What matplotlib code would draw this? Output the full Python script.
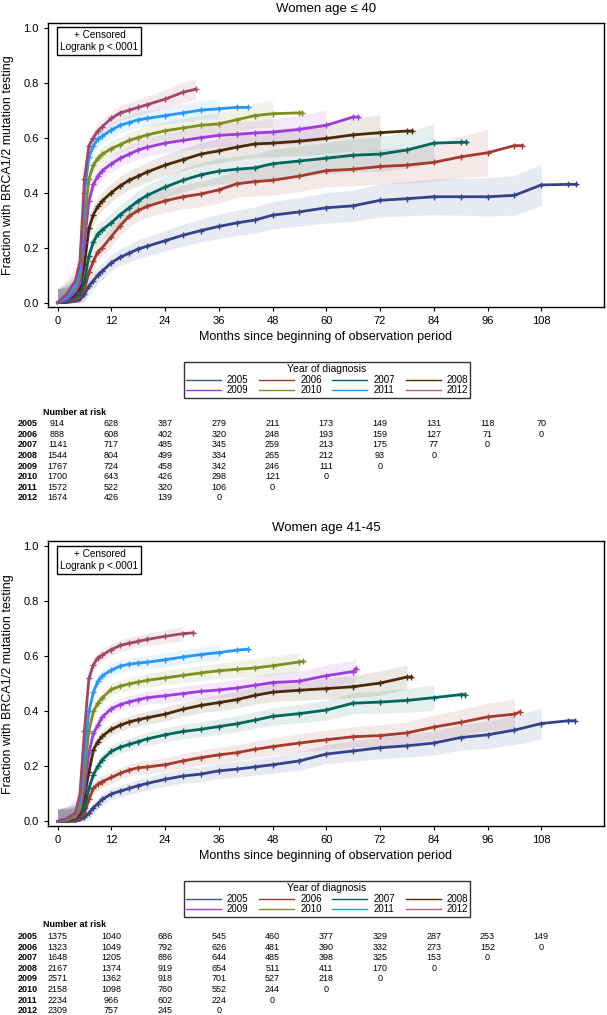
import numpy as np
import matplotlib
matplotlib.use("Agg")
import matplotlib.pyplot as plt
from matplotlib.lines import Line2D
from matplotlib.transforms import blended_transform_factory

plt.rcParams["font.family"] = ["Liberation Sans", "DejaVu Sans"]

YEARS = ["2005", "2006", "2007", "2008", "2009", "2010", "2011", "2012"]
COLORS = ["#34428a", "#a23a2e", "#01665e", "#4a2a06",
          "#9d3cdb", "#7f8e1f", "#2597fa", "#a0486c"]
LEGEND_COLORS = ["#445694", "#a23a2e", "#01665e", "#543005",
                 "#9d3cdb", "#7f8e1f", "#2597fa", "#b26084"]

MONTHS = [0, 2, 4, 5, 6, 7, 8, 9, 10, 12, 14, 16, 18, 20, 24, 28, 32, 36,
          40, 44, 48, 54, 60, 66, 72, 78, 84, 90, 96, 102, 108, 114]
RISK_MONTHS = [0, 12, 24, 36, 48, 60, 72, 84, 96, 108]

# ---- panel 1: women age <= 40 ----
P1_TITLE = "Women age \u2264 40"
P1_END = [115.8, 103.8, 91.3, 79.2, 67.1, 54.6, 42.5, 30.8]
P1_BAND_END = [107, 97, 84, 75, 63, 49.4, 37, 29.5]
P1_2005 = [0, 0, 0.005, 0.01, 0.03, 0.06, 0.08, 0.10, 0.115, 0.145, 0.165, 0.18, 0.195, 0.205, 0.225, 0.245,
           0.262, 0.277, 0.29, 0.30, 0.318, 0.33, 0.345, 0.352, 0.372, 0.378, 0.385, 0.385, 0.385, 0.39,
           0.428, 0.43, 0.43]
P1_2006 = [0, 0.005, 0.01, 0.02, 0.05, 0.11, 0.15, 0.185, 0.20, 0.24, 0.28, 0.315, 0.335, 0.35, 0.37, 0.385,
           0.395, 0.41, 0.432, 0.44, 0.445, 0.46, 0.48, 0.485, 0.495, 0.50, 0.51, 0.53, 0.545, 0.571, 0.571]
P1_2007 = [0, 0.005, 0.02, 0.03, 0.08, 0.17, 0.22, 0.25, 0.265, 0.29, 0.32, 0.345, 0.37, 0.39, 0.42, 0.445,
           0.465, 0.478, 0.485, 0.49, 0.505, 0.515, 0.525, 0.536, 0.54, 0.555, 0.58, 0.583, 0.583]
P1_2008 = [0, 0.01, 0.03, 0.05, 0.14, 0.27, 0.32, 0.35, 0.37, 0.40, 0.425, 0.445, 0.46, 0.475, 0.50, 0.52,
           0.54, 0.552, 0.565, 0.577, 0.58, 0.587, 0.597, 0.61, 0.618, 0.624, 0.624]
P1_2009 = [0, 0.01, 0.04, 0.07, 0.22, 0.37, 0.43, 0.46, 0.48, 0.505, 0.525, 0.54, 0.555, 0.565, 0.58, 0.59,
           0.60, 0.608, 0.612, 0.617, 0.62, 0.63, 0.645, 0.675, 0.675]
P1_2010 = [0, 0.02, 0.05, 0.10, 0.30, 0.45, 0.50, 0.525, 0.54, 0.56, 0.575, 0.59, 0.60, 0.61, 0.625, 0.635,
           0.645, 0.65, 0.665, 0.68, 0.687, 0.69, 0.69]
P1_2011 = [0, 0.02, 0.06, 0.12, 0.40, 0.53, 0.57, 0.595, 0.605, 0.628, 0.645, 0.655, 0.665, 0.67, 0.68,
           0.69, 0.70, 0.705, 0.71, 0.71]
P1_2012 = [0, 0.03, 0.08, 0.15, 0.45, 0.57, 0.60, 0.625, 0.64, 0.67, 0.69, 0.70, 0.71, 0.72, 0.74, 0.765,
           0.776]
# half-width of the confidence band
P1_HW_2005 = [0.05, 0.05, 0.05, 0.05, 0.04, 0.03, 0.03, 0.03, 0.03, 0.03, 0.03, 0.032, 0.034, 0.035, 0.037,
              0.04, 0.042, 0.044, 0.046, 0.048, 0.05, 0.052, 0.055, 0.057, 0.06, 0.062, 0.065, 0.067, 0.07,
              0.072, 0.075, 0.075, 0.075]
P1_HW_2006 = [0.05, 0.05, 0.05, 0.05, 0.04, 0.035, 0.035, 0.035, 0.035, 0.035, 0.035, 0.037, 0.038, 0.04,
              0.042, 0.044, 0.046, 0.048, 0.05, 0.052, 0.054, 0.056, 0.058, 0.06, 0.063, 0.066, 0.07, 0.075,
              0.085, 0.09, 0.09]
P1_HW_2007 = [0.05, 0.05, 0.05, 0.05, 0.04, 0.035, 0.035, 0.035, 0.035, 0.035, 0.035, 0.036, 0.037, 0.038,
              0.04, 0.042, 0.044, 0.046, 0.048, 0.05, 0.052, 0.055, 0.057, 0.06, 0.063, 0.066, 0.07, 0.07, 0.07]
P1_HW_2008 = [0.05, 0.05, 0.05, 0.05, 0.04, 0.035, 0.033, 0.033, 0.033, 0.033, 0.033, 0.034, 0.035, 0.036,
              0.038, 0.04, 0.042, 0.044, 0.046, 0.048, 0.05, 0.053, 0.056, 0.06, 0.065, 0.065, 0.065]
P1_HW_2009 = [0.05, 0.05, 0.05, 0.05, 0.04, 0.033, 0.03, 0.03, 0.03, 0.03, 0.03, 0.031, 0.032, 0.033, 0.035,
              0.037, 0.039, 0.041, 0.043, 0.045, 0.048, 0.05, 0.055, 0.06, 0.06]
P1_HW_2010 = [0.05, 0.05, 0.05, 0.05, 0.04, 0.03, 0.03, 0.028, 0.028, 0.028, 0.028, 0.029, 0.03, 0.031,
              0.033, 0.035, 0.037, 0.04, 0.042, 0.045, 0.048, 0.05, 0.05]
P1_HW_2011 = [0.05, 0.05, 0.05, 0.05, 0.04, 0.03, 0.028, 0.027, 0.027, 0.027, 0.027, 0.027, 0.028, 0.028,
              0.03, 0.032, 0.034, 0.036, 0.036, 0.036]
P1_HW_2012 = [0.05, 0.05, 0.05, 0.05, 0.04, 0.03, 0.028, 0.027, 0.027, 0.027, 0.027, 0.028, 0.029, 0.03,
              0.033, 0.037, 0.037]
P1_RISK_2005 = [914, 628, 387, 279, 211, 173, 149, 131, 118, 70]
P1_RISK_2006 = [888, 608, 402, 320, 248, 193, 159, 127, 71, 0]
P1_RISK_2007 = [1141, 717, 485, 345, 259, 213, 175, 77, 0]
P1_RISK_2008 = [1544, 804, 499, 334, 265, 212, 93, 0]
P1_RISK_2009 = [1767, 724, 458, 342, 246, 111, 0]
P1_RISK_2010 = [1700, 643, 426, 298, 121, 0]
P1_RISK_2011 = [1572, 522, 320, 106, 0]
P1_RISK_2012 = [1674, 426, 139, 0]

# ---- panel 2: women age 41-45 ----
P2_TITLE = "Women age 41-45"
P2_END = [115.5, 103.2, 91.0, 79.0, 66.6, 54.8, 42.5, 30.3]
P2_BAND_END = [110, 100, 86, 76, 65, 52, 37.9, 27.5]
P2_2005 = [0, 0, 0.0, 0.005, 0.015, 0.03, 0.05, 0.065, 0.08, 0.10, 0.11, 0.12, 0.13, 0.138, 0.153, 0.165,
           0.172, 0.184, 0.19, 0.198, 0.206, 0.22, 0.245, 0.256, 0.268, 0.275, 0.285, 0.305, 0.315, 0.332,
           0.356, 0.366, 0.366]
P2_2006 = [0, 0, 0.005, 0.01, 0.03, 0.08, 0.12, 0.135, 0.145, 0.16, 0.175, 0.187, 0.195, 0.198, 0.206, 0.22,
           0.232, 0.242, 0.25, 0.262, 0.272, 0.285, 0.297, 0.308, 0.312, 0.322, 0.343, 0.36, 0.38, 0.39, 0.398]
P2_2007 = [0, 0, 0.01, 0.02, 0.05, 0.12, 0.17, 0.20, 0.225, 0.255, 0.27, 0.28, 0.29, 0.30, 0.315, 0.327,
           0.335, 0.345, 0.355, 0.368, 0.382, 0.392, 0.405, 0.43, 0.434, 0.44, 0.45, 0.461, 0.461]
P2_2008 = [0, 0.005, 0.01, 0.03, 0.09, 0.18, 0.26, 0.29, 0.31, 0.335, 0.35, 0.362, 0.37, 0.377, 0.39, 0.408,
           0.422, 0.432, 0.443, 0.458, 0.47, 0.477, 0.483, 0.49, 0.503, 0.525, 0.525]
P2_2009 = [0, 0.005, 0.015, 0.04, 0.12, 0.25, 0.32, 0.35, 0.38, 0.41, 0.425, 0.435, 0.443, 0.45, 0.457,
           0.465, 0.473, 0.478, 0.485, 0.495, 0.505, 0.51, 0.53, 0.545, 0.556]
P2_2010 = [0, 0.005, 0.02, 0.05, 0.18, 0.33, 0.40, 0.43, 0.45, 0.48, 0.492, 0.50, 0.507, 0.513, 0.522,
           0.531, 0.54, 0.548, 0.553, 0.558, 0.566, 0.58, 0.582]
P2_2011 = [0, 0.01, 0.03, 0.08, 0.25, 0.40, 0.47, 0.51, 0.53, 0.55, 0.565, 0.572, 0.576, 0.579, 0.588,
           0.598, 0.607, 0.614, 0.623, 0.626]
P2_2012 = [0, 0.01, 0.03, 0.10, 0.33, 0.52, 0.57, 0.595, 0.605, 0.625, 0.64, 0.648, 0.655, 0.662, 0.673,
           0.683, 0.686]
P2_HW_2005 = [0.045, 0.045, 0.045, 0.045, 0.035, 0.025, 0.022, 0.022, 0.022, 0.022, 0.022, 0.022, 0.023,
              0.024, 0.025, 0.026, 0.027, 0.028, 0.029, 0.03, 0.031, 0.033, 0.035, 0.037, 0.039, 0.041,
              0.043, 0.046, 0.05, 0.053, 0.056, 0.056, 0.056]
P2_HW_2006 = [0.045, 0.045, 0.045, 0.045, 0.035, 0.025, 0.022, 0.022, 0.022, 0.022, 0.022, 0.022, 0.023,
              0.024, 0.025, 0.026, 0.027, 0.028, 0.029, 0.03, 0.031, 0.033, 0.035, 0.037, 0.039, 0.041,
              0.044, 0.047, 0.05, 0.055, 0.055]
P2_HW_2007 = [0.045, 0.045, 0.045, 0.045, 0.035, 0.025, 0.022, 0.022, 0.022, 0.022, 0.022, 0.022, 0.023,
              0.024, 0.025, 0.026, 0.027, 0.028, 0.029, 0.03, 0.032, 0.034, 0.036, 0.038, 0.04, 0.043,
              0.046, 0.046, 0.046]
P2_HW_2008 = [0.045, 0.045, 0.045, 0.045, 0.035, 0.025, 0.022, 0.022, 0.022, 0.022, 0.022, 0.022, 0.023,
              0.024, 0.025, 0.026, 0.027, 0.028, 0.03, 0.032, 0.034, 0.036, 0.038, 0.04, 0.044, 0.044, 0.044]
P2_HW_2009 = [0.045, 0.045, 0.045, 0.045, 0.035, 0.025, 0.022, 0.022, 0.022, 0.022, 0.022, 0.022, 0.023,
              0.024, 0.025, 0.026, 0.027, 0.029, 0.031, 0.033, 0.035, 0.037, 0.04, 0.04, 0.04]
P2_HW_2010 = [0.045, 0.045, 0.045, 0.045, 0.035, 0.025, 0.022, 0.022, 0.022, 0.022, 0.022, 0.022, 0.023,
              0.024, 0.025, 0.026, 0.027, 0.028, 0.03, 0.032, 0.035, 0.035, 0.035]
P2_HW_2011 = [0.045, 0.045, 0.045, 0.045, 0.035, 0.025, 0.022, 0.022, 0.022, 0.022, 0.022, 0.022, 0.022,
              0.023, 0.024, 0.025, 0.026, 0.028, 0.028, 0.028]
P2_HW_2012 = [0.045, 0.045, 0.045, 0.045, 0.035, 0.025, 0.022, 0.022, 0.022, 0.022, 0.022, 0.022, 0.022,
              0.023, 0.024, 0.026, 0.026]
P2_RISK_2005 = [1375, 1040, 686, 545, 460, 377, 329, 287, 253, 149]
P2_RISK_2006 = [1323, 1049, 792, 626, 481, 390, 332, 273, 152, 0]
P2_RISK_2007 = [1648, 1205, 886, 644, 485, 398, 325, 153, 0]
P2_RISK_2008 = [2167, 1374, 919, 654, 511, 411, 170, 0]
P2_RISK_2009 = [2571, 1362, 918, 701, 527, 218, 0]
P2_RISK_2010 = [2158, 1098, 760, 552, 244, 0]
P2_RISK_2011 = [2234, 966, 602, 224, 0]
P2_RISK_2012 = [2309, 757, 245, 0]

W, H = 607, 1015
XLIM = (-2.2, 122)
YLIM = (-0.016, 1.018)
AX_LEFT, AX_WIDTH = 47.7, 556.3


def px(x0, y_top, w, h):
    # pixel box (top-left origin) -> figure fraction rect
    return [x0 / W, 1 - (y_top + h) / H, w / W, h / H]


def draw_curves(ax, title, curves, hws, ends, band_ends):
    grid = np.array(MONTHS, dtype=float)
    for i, (y, hw, end, bend) in enumerate(zip(curves, hws, ends, band_ends)):
        t = np.append(grid[grid < end], end)
        y = np.asarray(y, dtype=float)
        hw = np.asarray(hw, dtype=float)
        ax.fill_between(t, np.clip(y - hw, 0, None), y + hw, where=t <= bend + 2,
                        color=COLORS[i], alpha=0.11, lw=0, zorder=1)
    for i, (y, end) in enumerate(zip(curves, ends)):
        t = np.append(grid[grid < end], end)
        ax.plot(t, y, color=COLORS[i], lw=2.0, marker="+", ms=5, mew=1.0,
                markevery=slice(4, None), zorder=3)

    ax.set_xlim(*XLIM)
    ax.set_ylim(*YLIM)
    ax.set_xticks(RISK_MONTHS)
    ax.set_yticks([0, 0.2, 0.4, 0.6, 0.8, 1.0])
    ax.set_yticklabels(["0.0", "0.2", "0.4", "0.6", "0.8", "1.0"])
    ax.tick_params(direction="out", length=3, width=0.8, labelsize=8, pad=3.5)
    for s in ax.spines.values():
        s.set_linewidth(1.0)
    ax.set_title(title, fontsize=9.5, pad=7.5)
    ax.set_ylabel("Fraction with BRCA1/2 mutation testing", fontsize=9)
    ax.yaxis.set_label_coords(-0.06, 0.5)
    ax.set_xlabel("Months since beginning of observation period", fontsize=9)
    ax.xaxis.set_label_coords(0.5, -0.085)
    ax.text(0.093, 0.934, "+ Censored\nLogrank p <.0001", transform=ax.transAxes,
            ha="center", va="center", fontsize=7.2, linespacing=1.25, multialignment="center",
            bbox=dict(boxstyle="square,pad=0.3", fc="white", ec="black", lw=1.0), zorder=5)


def draw_legend(fig, y_top):
    order = [0, 4, 1, 5, 2, 6, 3, 7]
    handles = [Line2D([], [], color=LEGEND_COLORS[i], lw=1.0) for i in order]
    labels = [YEARS[i] for i in order]
    leg = fig.legend(handles, labels, ncol=4, loc="upper center",
                     bbox_to_anchor=(327 / W, 1 - y_top / H), title="Year of diagnosis",
                     fontsize=7, title_fontsize=7.5, frameon=True, fancybox=False,
                     edgecolor="black", handlelength=3.6, handletextpad=0.6,
                     columnspacing=1.1, labelspacing=0.05, borderpad=0.25,
                     borderaxespad=0)
    leg.get_frame().set_linewidth(1.0)


def draw_risk(fig, y_top, rows):
    # same horizontal extent and x scale as the curve axes above it
    tax = fig.add_axes(px(AX_LEFT, y_top, AX_WIDTH, 94.3))
    tax.set_xlim(*XLIM)
    tax.set_ylim(7.4, -1.5)
    tax.axis("off")
    trans = blended_transform_factory(fig.transFigure, tax.transData)
    tax.text(43 / W, -1.1, "Number at risk", transform=trans, ha="left", va="center",
             fontsize=6.5, weight="bold")
    for i, vals in enumerate(rows):
        tax.text(18 / W, i, YEARS[i], transform=trans, ha="left", va="center",
                 fontsize=6.5, weight="bold")
        for m, v in zip(RISK_MONTHS, vals):
            tax.text(m, i, str(v), ha="center", va="center", fontsize=6.5)


fig = plt.figure(figsize=(W / 100, H / 100), dpi=100)

ax1 = fig.add_axes(px(AX_LEFT, 22.7, AX_WIDTH, 284.3))
draw_curves(ax1, P1_TITLE,
            [P1_2005, P1_2006, P1_2007, P1_2008, P1_2009, P1_2010, P1_2011, P1_2012],
            [P1_HW_2005, P1_HW_2006, P1_HW_2007, P1_HW_2008, P1_HW_2009, P1_HW_2010,
             P1_HW_2011, P1_HW_2012],
            P1_END, P1_BAND_END)
draw_legend(fig, 362)
draw_risk(fig, 407.8,
          [P1_RISK_2005, P1_RISK_2006, P1_RISK_2007, P1_RISK_2008, P1_RISK_2009,
           P1_RISK_2010, P1_RISK_2011, P1_RISK_2012])

ax2 = fig.add_axes(px(AX_LEFT, 541.5, AX_WIDTH, 284.3))
draw_curves(ax2, P2_TITLE,
            [P2_2005, P2_2006, P2_2007, P2_2008, P2_2009, P2_2010, P2_2011, P2_2012],
            [P2_HW_2005, P2_HW_2006, P2_HW_2007, P2_HW_2008, P2_HW_2009, P2_HW_2010,
             P2_HW_2011, P2_HW_2012],
            P2_END, P2_BAND_END)
draw_legend(fig, 881)
draw_risk(fig, 920.7,
          [P2_RISK_2005, P2_RISK_2006, P2_RISK_2007, P2_RISK_2008, P2_RISK_2009,
           P2_RISK_2010, P2_RISK_2011, P2_RISK_2012])

fig.savefig("out.png", dpi=100)
